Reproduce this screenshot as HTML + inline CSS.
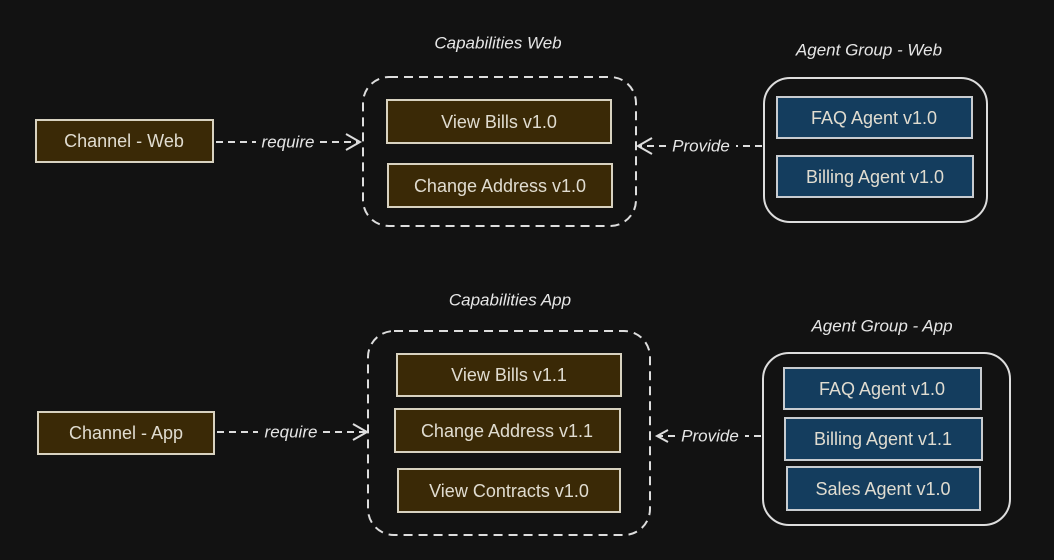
<!DOCTYPE html>
<html><head><style>
html,body{margin:0;padding:0;background:#121212;}
svg{display:block}
.box{font-family:"Liberation Sans",sans-serif;font-size:18px;fill:#e0dcd0;text-anchor:middle;dominant-baseline:central}
.hand{font-family:"Liberation Sans",sans-serif;font-size:17px;fill:#e6e6e6;text-anchor:middle;dominant-baseline:central;font-style:italic}
</style></head><body>
<svg width="1054" height="560" viewBox="0 0 1054 560" xmlns="http://www.w3.org/2000/svg">
<rect width="1054" height="560" fill="#121212"/>
<g stroke="#ddd" stroke-width="2" fill="none">
<rect x="363" y="77" width="273" height="149" rx="26" stroke-dasharray="9 6"/>
<rect x="368" y="331" width="282" height="204" rx="26" stroke-dasharray="9 6"/>
<rect x="764" y="78" width="223" height="144" rx="26"/>
<rect x="763" y="353" width="247" height="172" rx="26"/>
<path d="M216 142 H256 M320 142 H358" stroke-dasharray="7 5"/>
<path d="M346 134 L360 142 L346 150"/>
<path d="M217 432 H258 M323 432 H365" stroke-dasharray="7 5"/>
<path d="M353 424 L367 432 L353 440"/>
<path d="M762 146 H736 M666 146 H640" stroke-dasharray="7 5"/>
<path d="M652 138 L638 146 L652 154"/>
<path d="M761 436 H745 M675 436 H659" stroke-dasharray="7 5"/>
<path d="M668 430 L657 436 L668 442"/>
</g>
<g stroke="#d8d2c0" stroke-width="2" fill="#3a2906">
<rect x="36" y="120" width="177" height="42"/>
<rect x="38" y="412" width="176" height="42"/>
<rect x="387" y="100" width="224" height="43"/>
<rect x="388" y="164" width="224" height="43"/>
<rect x="397" y="354" width="224" height="42"/>
<rect x="395" y="409" width="225" height="43"/>
<rect x="398" y="469" width="222" height="43"/>
</g>
<g stroke="#c8ccd0" stroke-width="2" fill="#143d5e">
<rect x="777" y="97" width="195" height="41"/>
<rect x="777" y="156" width="196" height="41"/>
<rect x="784" y="368" width="197" height="41"/>
<rect x="785" y="418" width="197" height="42"/>
<rect x="787" y="467" width="193" height="43"/>
</g>
<text class="box" x="124" y="141">Channel - Web</text>
<text class="box" x="126" y="433">Channel - App</text>
<text class="box" x="499" y="122">View Bills v1.0</text>
<text class="box" x="500" y="186">Change Address v1.0</text>
<text class="box" x="509" y="375">View Bills v1.1</text>
<text class="box" x="507" y="431">Change Address v1.1</text>
<text class="box" x="509" y="491">View Contracts v1.0</text>
<text class="box" x="874" y="118">FAQ Agent v1.0</text>
<text class="box" x="875" y="177">Billing Agent v1.0</text>
<text class="box" x="882" y="389">FAQ Agent v1.0</text>
<text class="box" x="883" y="439">Billing Agent v1.1</text>
<text class="box" x="883" y="489">Sales Agent v1.0</text>
<text class="hand" x="498" y="43">Capabilities Web</text>
<text class="hand" x="510" y="300">Capabilities App</text>
<text class="hand" x="869" y="50">Agent Group - Web</text>
<text class="hand" x="882" y="326">Agent Group - App</text>
<text class="hand" x="288" y="142">require</text>
<text class="hand" x="291" y="432">require</text>
<text class="hand" x="701" y="146">Provide</text>
<text class="hand" x="710" y="436">Provide</text>
</svg>
</body></html>
